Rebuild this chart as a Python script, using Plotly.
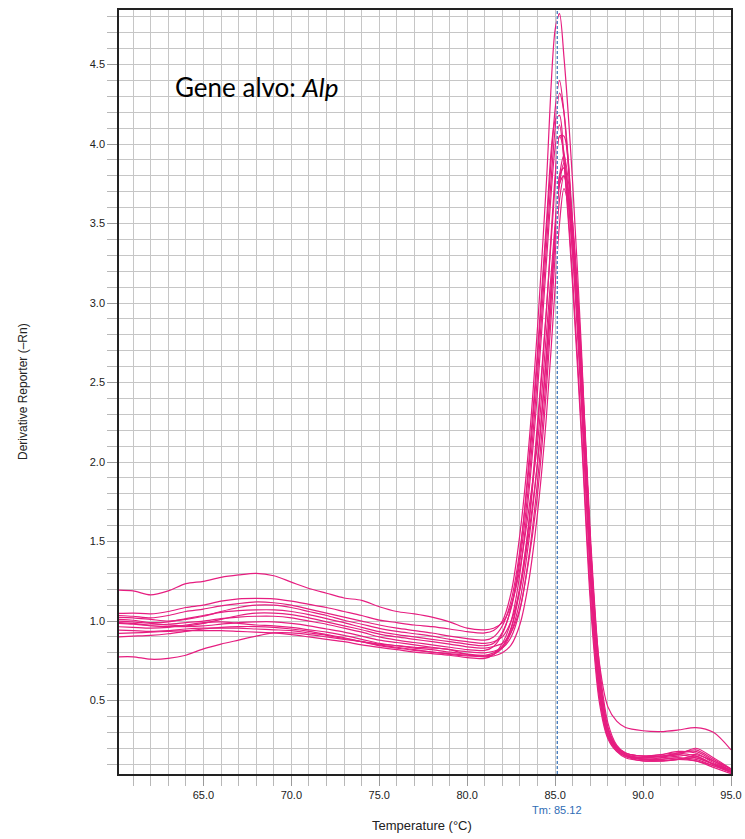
import plotly.graph_objects as go

# Melt-curve derivative data: temperature grid (°C) shared by all wells
temperature = [60.2, 61, 62, 63, 64, 65, 66, 67, 68, 69, 70, 71, 72, 73, 74, 75,
               76, 77, 78, 79, 80, 81, 81.5, 82, 82.5, 83, 83.5, 84, 84.5, 85,
               85.25, 85.5, 86, 86.5, 87, 87.5, 88, 88.5, 89, 90, 91, 92, 93, 94, 95]

well_01 = [1.195, 1.19, 1.165, 1.19, 1.235, 1.25, 1.275, 1.29, 1.30, 1.285, 1.245, 1.205,
           1.175, 1.145, 1.13, 1.09, 1.06, 1.045, 1.025, 0.995, 0.955, 0.945,
           0.955, 0.99, 1.1, 1.33, 1.7, 2.12, 2.8, 3.5, 3.8, 3.85, 3.4, 2.6, 1.5,
           0.75, 0.46, 0.37, 0.33, 0.31, 0.305, 0.315, 0.33, 0.30, 0.19]
well_02 = [0.775, 0.775, 0.76, 0.765, 0.785, 0.825, 0.855, 0.88, 0.905, 0.925, 0.925, 0.915,
           0.9, 0.885, 0.87, 0.855, 0.845, 0.835, 0.83, 0.82, 0.79, 0.78,
           0.79, 0.84, 0.96, 1.22, 1.62, 2.25, 2.95, 3.75, 4.05, 4.05, 3.4, 2.4, 1.3,
           0.56, 0.28, 0.19, 0.15, 0.13, 0.13, 0.14, 0.12, 0.09, 0.05]
well_03 = [1.048, 1.05, 1.045, 1.06, 1.085, 1.10, 1.125, 1.14, 1.143, 1.14, 1.125, 1.105,
           1.085, 1.06, 1.035, 1.006, 0.99, 0.975, 0.965, 0.95, 0.933, 0.925,
           0.94, 1.0, 1.18, 1.55, 2.1, 2.85, 3.75, 4.72, 4.82, 4.55, 3.75, 2.7, 1.45,
           0.63, 0.32, 0.21, 0.17, 0.15, 0.16, 0.17, 0.15, 0.10, 0.05]
well_04 = [1.035, 1.03, 1.02, 1.035, 1.06, 1.075, 1.095, 1.11, 1.12, 1.115, 1.1, 1.075,
           1.05, 1.025, 1.0, 0.975, 0.955, 0.94, 0.925, 0.905, 0.89, 0.88,
           0.9, 0.97, 1.13, 1.45, 1.95, 2.65, 3.45, 4.22, 4.4, 4.2, 3.45, 2.45, 1.32,
           0.58, 0.28, 0.19, 0.15, 0.14, 0.15, 0.16, 0.14, 0.10, 0.06]
well_05 = [1.023, 1.02, 1.01, 1.0, 1.01, 1.03, 1.06, 1.085, 1.10, 1.10, 1.085, 1.06,
           1.035, 1.005, 0.98, 0.954, 0.935, 0.92, 0.905, 0.885, 0.87, 0.86,
           0.87, 0.9, 1.0, 1.2, 1.55, 2.0, 2.65, 3.45, 3.8, 3.93, 3.5, 2.6, 1.48,
           0.68, 0.33, 0.21, 0.16, 0.14, 0.14, 0.15, 0.16, 0.12, 0.07]
well_06 = [1.01, 1.005, 0.99, 0.995, 1.015, 1.035, 1.055, 1.065, 1.07, 1.07, 1.06, 1.04,
           1.015, 0.99, 0.96, 0.933, 0.915, 0.9, 0.885, 0.87, 0.855, 0.845,
           0.86, 0.93, 1.08, 1.38, 1.87, 2.55, 3.35, 4.1, 4.32, 4.2, 3.5, 2.5, 1.36,
           0.6, 0.3, 0.2, 0.16, 0.13, 0.14, 0.17, 0.18, 0.12, 0.06]
well_07 = [1.0, 0.995, 0.985, 0.975, 0.97, 0.985, 1.01, 1.035, 1.05, 1.05, 1.04, 1.02,
           0.995, 0.97, 0.945, 0.918, 0.9, 0.885, 0.87, 0.855, 0.838, 0.83,
           0.84, 0.86, 0.93, 1.08, 1.38, 1.8, 2.45, 3.3, 3.65, 3.8, 3.4, 2.55, 1.45,
           0.66, 0.32, 0.2, 0.16, 0.13, 0.12, 0.13, 0.15, 0.10, 0.05]
well_08 = [0.99, 0.985, 0.975, 0.98, 0.99, 1.0, 1.015, 1.025, 1.03, 1.03, 1.02, 1.0,
           0.98, 0.955, 0.93, 0.9, 0.88, 0.865, 0.85, 0.835, 0.82, 0.815,
           0.84, 0.92, 1.09, 1.42, 2.0, 2.7, 3.5, 4.15, 4.18, 3.9, 3.1, 2.15, 1.12,
           0.5, 0.26, 0.18, 0.15, 0.13, 0.13, 0.14, 0.13, 0.09, 0.05]
well_09 = [0.985, 0.98, 0.97, 0.965, 0.965, 0.97, 0.98, 0.99, 0.995, 0.995, 0.985, 0.97,
           0.95, 0.93, 0.905, 0.88, 0.865, 0.85, 0.835, 0.82, 0.807, 0.8,
           0.81, 0.83, 0.9, 1.07, 1.4, 1.88, 2.55, 3.4, 3.75, 3.88, 3.45, 2.6, 1.5,
           0.7, 0.33, 0.21, 0.17, 0.15, 0.16, 0.18, 0.17, 0.11, 0.06]
well_10 = [0.964, 0.96, 0.955, 0.96, 0.975, 0.99, 0.995, 0.985, 0.975, 0.97, 0.96, 0.945,
           0.93, 0.91, 0.885, 0.86, 0.845, 0.83, 0.82, 0.805, 0.792, 0.785,
           0.8, 0.84, 0.95, 1.2, 1.6, 2.2, 2.95, 3.8, 4.05, 3.95, 3.3, 2.35, 1.28,
           0.57, 0.28, 0.19, 0.15, 0.12, 0.12, 0.13, 0.14, 0.10, 0.06]
well_11 = [0.943, 0.94, 0.935, 0.94, 0.95, 0.955, 0.955, 0.955, 0.95, 0.945, 0.94, 0.925,
           0.91, 0.89, 0.87, 0.85, 0.835, 0.82, 0.805, 0.79, 0.78, 0.775,
           0.78, 0.8, 0.85, 0.98, 1.25, 1.68, 2.28, 3.1, 3.5, 3.72, 3.45, 2.65, 1.55,
           0.74, 0.36, 0.22, 0.17, 0.15, 0.15, 0.16, 0.20, 0.14, 0.07]
well_12 = [0.922, 0.925, 0.93, 0.935, 0.94, 0.94, 0.94, 0.935, 0.93, 0.925, 0.915, 0.9,
           0.885, 0.87, 0.85, 0.834, 0.82, 0.805, 0.795, 0.785, 0.77, 0.765,
           0.79, 0.86, 1.0, 1.3, 1.8, 2.45, 3.25, 3.98, 4.12, 3.9, 3.15, 2.2, 1.18,
           0.53, 0.27, 0.18, 0.14, 0.12, 0.12, 0.13, 0.12, 0.08, 0.04]
well_13 = [0.901, 0.905, 0.91, 0.92, 0.935, 0.95, 0.96, 0.965, 0.965, 0.96, 0.95, 0.935,
           0.915, 0.895, 0.87, 0.845, 0.83, 0.815, 0.805, 0.795, 0.785, 0.78,
           0.79, 0.83, 0.93, 1.13, 1.5, 2.0, 2.68, 3.45, 3.75, 3.8, 3.3, 2.45, 1.4,
           0.64, 0.31, 0.2, 0.16, 0.14, 0.15, 0.17, 0.19, 0.13, 0.07]

wells = [well_01, well_02, well_03, well_04, well_05, well_06, well_07,
         well_08, well_09, well_10, well_11, well_12, well_13]

tm_value = 85.12
x_ticks = [65, 70, 75, 80, 85, 90, 95]
y_ticks = [0.5, 1.0, 1.5, 2.0, 2.5, 3.0, 3.5, 4.0, 4.5]

curve_color = "rgb(230,30,128)"
grid_color = "#c6c6c6"
tick_font = dict(family="Liberation Sans, Arial, sans-serif", size=11, color="#222")

fig = go.Figure()
for w in wells:
    fig.add_trace(go.Scatter(
        x=temperature, y=w, mode="lines",
        line=dict(color=curve_color, width=1.2, shape="spline", smoothing=0.8),
        showlegend=False, hoverinfo="skip",
    ))

# Tm marker: white core with a blue dashed line on top
fig.add_shape(type="line", xref="x", yref="paper", x0=tm_value, x1=tm_value,
              y0=0, y1=1, line=dict(color="white", width=1.6), layer="above")
fig.add_shape(type="line", xref="x", yref="paper", x0=tm_value, x1=tm_value,
              y0=0, y1=1, line=dict(color="#2f6db5", width=1.2, dash="3px,2px"),
              layer="above")

fig.update_xaxes(
    range=[60.2, 95.0], tickvals=x_ticks, tickformat=".1f", automargin=False,
    ticks="outside", ticklen=10, tickcolor="#9a9a9a",
    showgrid=True, gridcolor=grid_color, gridwidth=1,
    minor=dict(dtick=1, tick0=0, ticks="outside", ticklen=10, tickcolor="#b8b8b8",
               showgrid=True, gridcolor=grid_color, gridwidth=1),
    showline=True, linecolor="#222", linewidth=1.6, mirror=True,
    tickfont=tick_font, zeroline=False,
)
fig.update_yaxes(
    range=[0.038, 4.843], tickvals=y_ticks, tickformat=".1f", automargin=False,
    ticks="outside", ticklen=10, tickcolor="#9a9a9a",
    showgrid=True, gridcolor=grid_color, gridwidth=1,
    minor=dict(dtick=0.1, tick0=0, ticks="outside", ticklen=10, tickcolor="#b8b8b8",
               showgrid=True, gridcolor=grid_color, gridwidth=1),
    showline=True, linecolor="#222", linewidth=1.6, mirror=True,
    tickfont=tick_font, zeroline=False,
)

fig.add_annotation(text="Gene alvo: <i>Alp</i>", xref="paper", yref="paper",
                   x=(173 - 119) / 612, y=(774 - 87) / 764, xanchor="left", yanchor="middle",
                   showarrow=False, font=dict(family="Lato, Open Sans, sans-serif", size=26, color="black"))
fig.add_annotation(text="Derivative Reporter (–Rn)", xref="paper", yref="paper",
                   x=(23 - 119) / 612, y=0.5, xanchor="center", yanchor="middle", textangle=-90,
                   showarrow=False, font=dict(family="Liberation Sans, Arial, sans-serif", size=12, color="#222"))
fig.add_annotation(text="Temperature (°C)", xref="paper", yref="paper",
                   x=(422 - 119) / 612, y=(774 - 825) / 764, xanchor="center", yanchor="middle",
                   showarrow=False, font=dict(family="Liberation Sans, Arial, sans-serif", size=13, color="#222"))
fig.add_annotation(text=f"Tm: {tm_value:.2f}", xref="x", yref="paper",
                   x=tm_value, y=(774 - 810) / 764, xanchor="center", yanchor="middle",
                   showarrow=False, font=dict(family="Liberation Sans, Arial, sans-serif", size=11, color="#2f6db5"))

fig.update_layout(
    width=745, height=839,
    margin=dict(l=119, r=14, t=10, b=65),
    paper_bgcolor="white", plot_bgcolor="white",
)

fig.write_html("out.html")
